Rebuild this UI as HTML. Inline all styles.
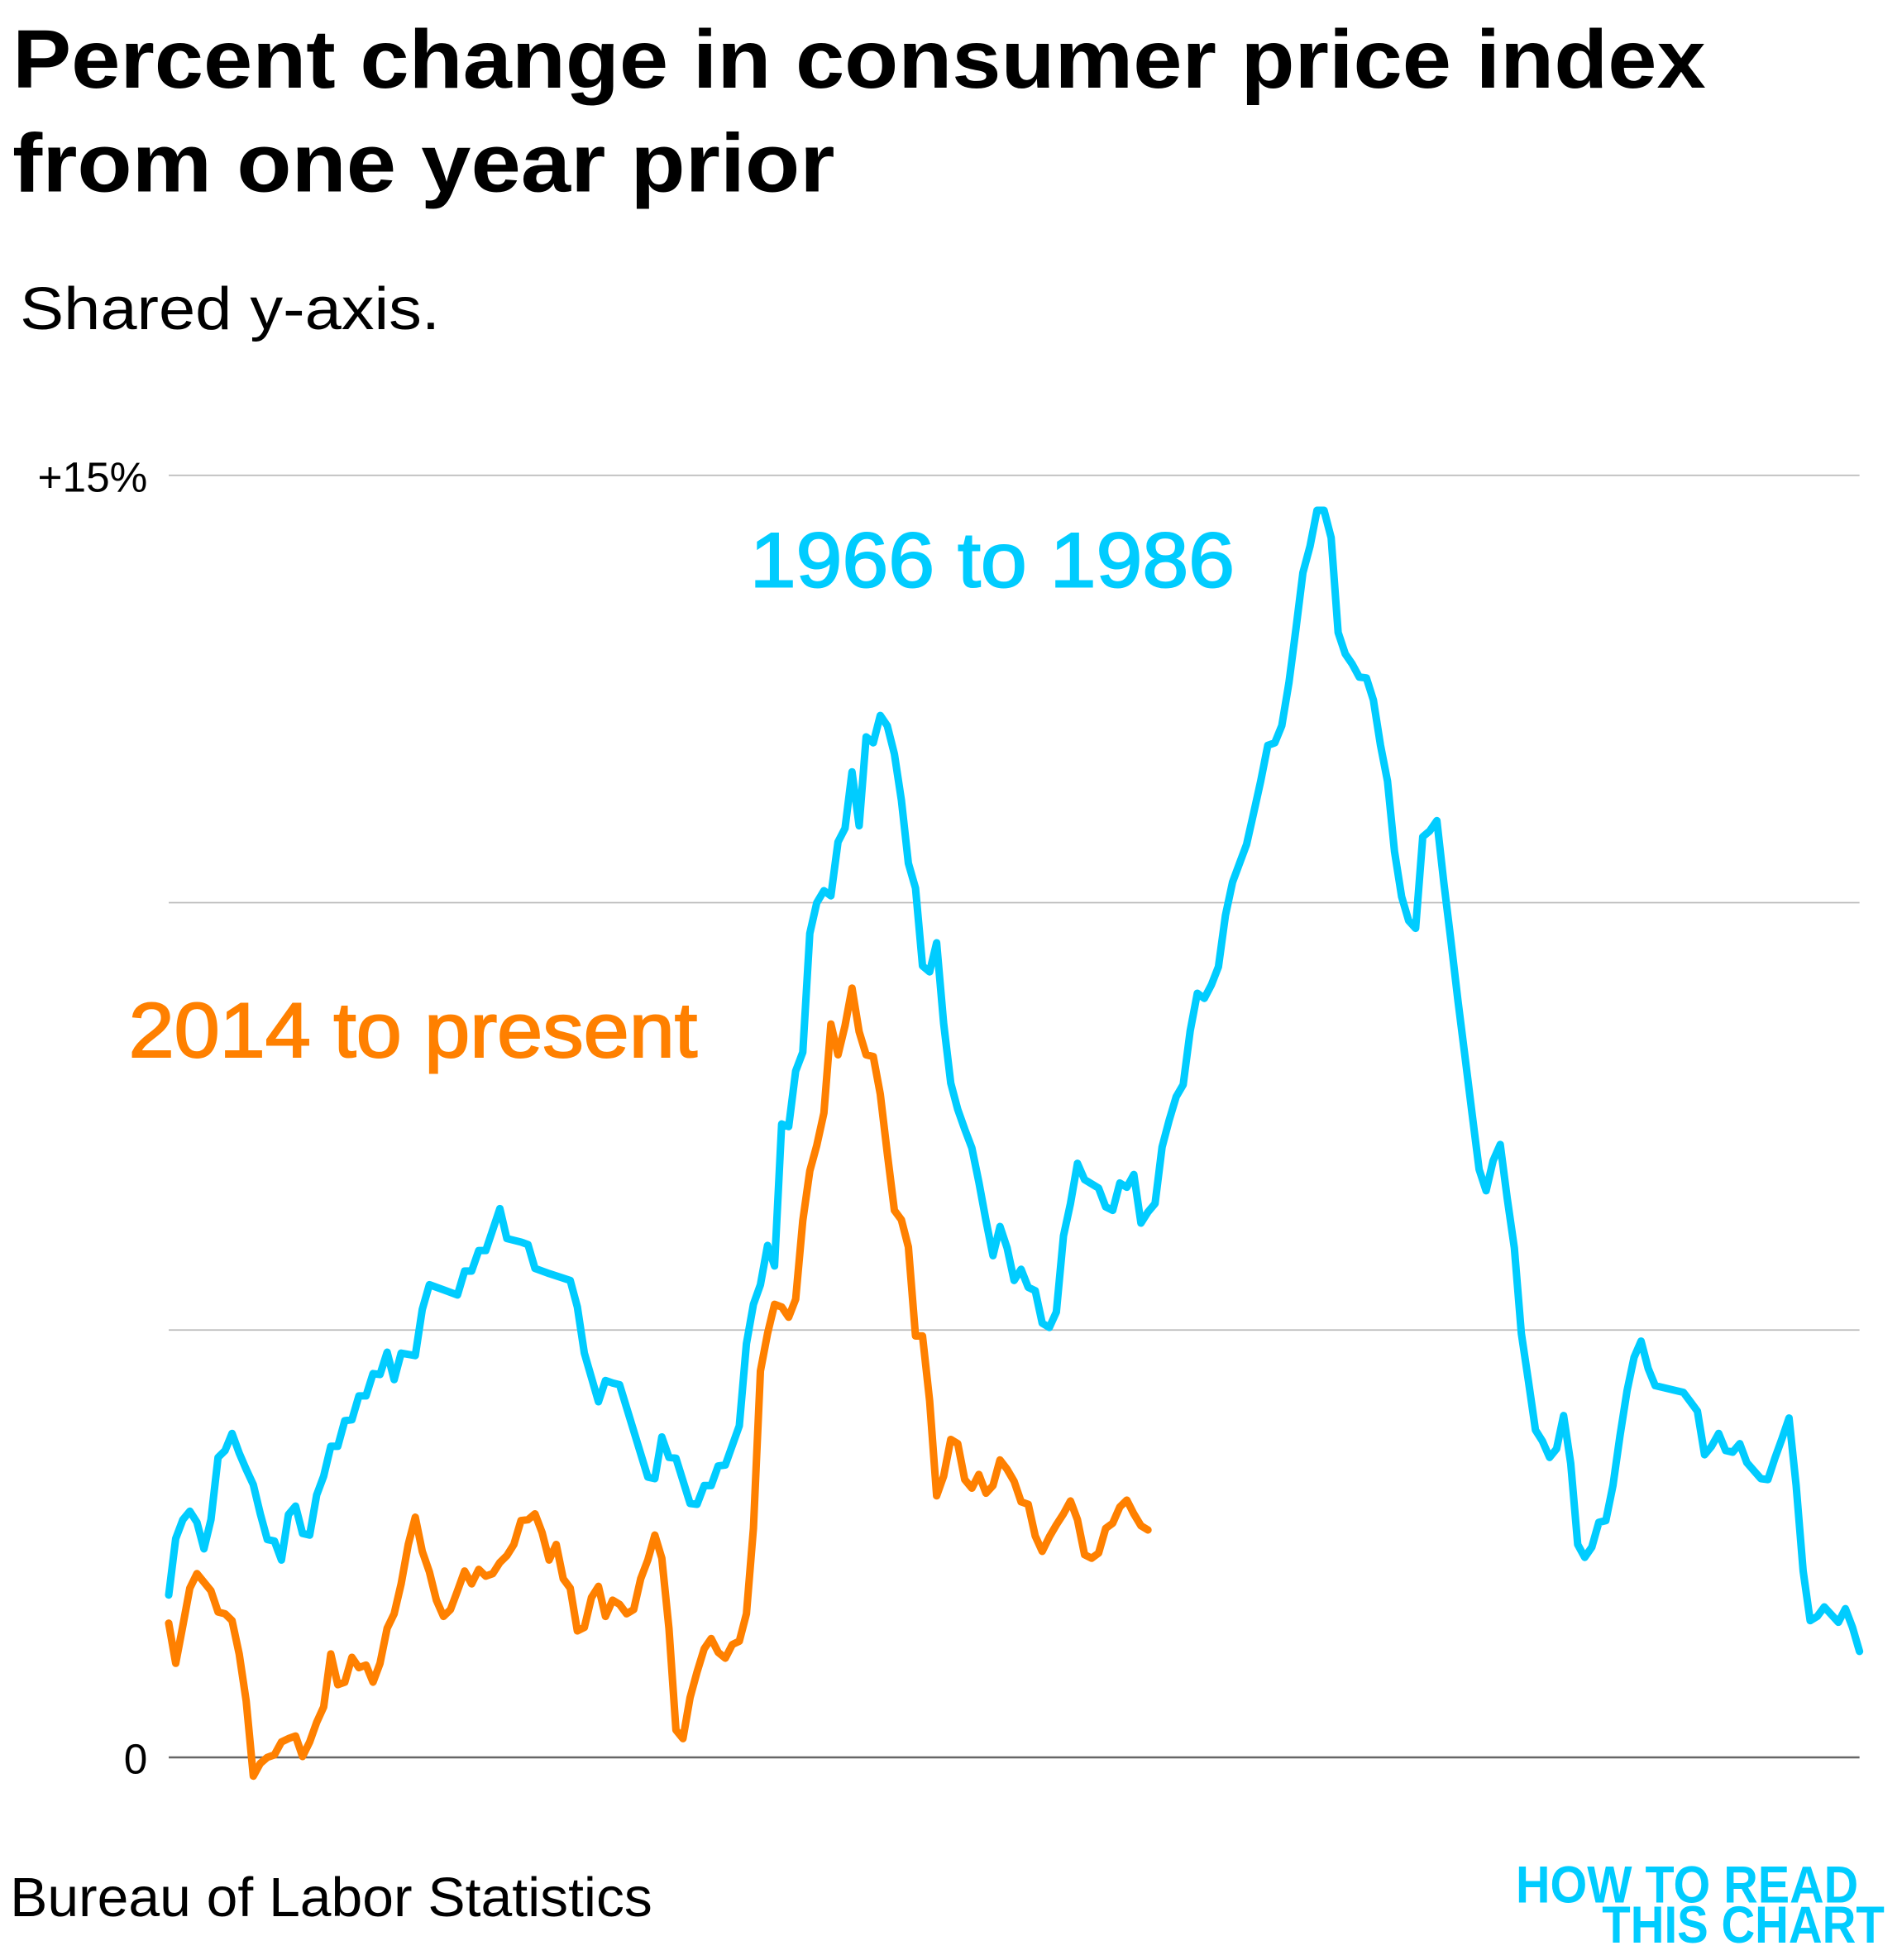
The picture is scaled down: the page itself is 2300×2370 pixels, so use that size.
<!DOCTYPE html>
<html><head><meta charset="utf-8">
<style>
html,body{margin:0;padding:0;background:#fff;}
svg{display:block;}
text{font-family:"Liberation Sans",sans-serif;}
</style></head>
<body>
<svg width="2300" height="2370" viewBox="0 0 1522 1567" preserveAspectRatio="none" xmlns="http://www.w3.org/2000/svg">
<rect width="1522" height="1567" fill="#fff"/>
<text x="10" y="70" font-size="66" font-weight="bold" fill="#000" textLength="1355" lengthAdjust="spacingAndGlyphs">Percent change in consumer price index</text>
<text x="10" y="153" font-size="66" font-weight="bold" fill="#000" textLength="658" lengthAdjust="spacingAndGlyphs">from one year prior</text>
<text x="16" y="263" font-size="48" fill="#000" textLength="336" lengthAdjust="spacingAndGlyphs">Shared y-axis.</text>
<g id="grid"></g>
<g id="series"></g>
<text x="600" y="469" font-size="62" fill="#00ccff" stroke="#00ccff" stroke-width="1.3" textLength="388" lengthAdjust="spacingAndGlyphs">1966 to 1986</text>
<text x="103" y="845" font-size="62" fill="#ff8000" stroke="#ff8000" stroke-width="1.3" textLength="455" lengthAdjust="spacingAndGlyphs">2014 to present</text>
<text x="8" y="1532" font-size="44" fill="#000" textLength="514" lengthAdjust="spacingAndGlyphs">Bureau of Labor Statistics</text>
<text x="1213" y="1521" font-size="42" font-weight="bold" fill="#00ccff" textLength="274" lengthAdjust="spacingAndGlyphs">HOW TO READ</text>
<text x="1282" y="1553" font-size="42" font-weight="bold" fill="#00ccff" textLength="226" lengthAdjust="spacingAndGlyphs">THIS CHART</text>
</svg>
<script>
const yTicks = [0, 5, 10, 15];
const yTickLabels = ["0", "", "", "+15%"];
const blueMonths = [0,1,2,3,4,5,6,7,8,9,10,11,12,13,14,15,16,17,18,19,20,21,22,23,24,25,26,27,28,29,30,31,32,33,35,36,37,39,41,42,43,44,45,47,48,50,51,52,54,57,58,59,61,62,63,64,68,69,70,71,72,74,75,76,77,78,79,81,82,83,84,85,86,87,88,89,90,91,92,93,94,95,96,97,98,99,100,101,102,103,104,105,106,107,108,109,110,111,112,113,114,115,116,117,118,119,120,121,122,123,124,125,126,127,128,129,130,132,133,134,135,136,137,138,139,140,141,142,143,144,145,146,147,148,149,150,151,152,153,154,155,156,157,158,159,160,161,162,163,164,165,166,167,168,169,170,171,172,173,174,175,176,177,178,179,180,181,182,183,184,185,186,187,188,189,190,191,192,193,194,195,196,197,198,199,200,201,202,203,204,205,206,207,208,209,210,211,215,216,217,218,219,220,221,222,223,224,226,227,228,229,230,231,232,233,234,235,236,237,238,239,240];
const blueValues = [1.90,2.56,2.78,2.88,2.75,2.44,2.78,3.51,3.59,3.79,3.56,3.37,3.19,2.85,2.55,2.53,2.31,2.84,2.94,2.62,2.60,3.07,3.29,3.64,3.64,3.94,3.95,4.23,4.23,4.49,4.48,4.74,4.42,4.73,4.70,5.24,5.53,5.47,5.41,5.69,5.69,5.93,5.93,6.42,6.07,6.03,6.00,5.72,5.66,5.58,5.27,4.73,4.16,4.41,4.38,4.36,3.28,3.26,3.75,3.51,3.50,2.97,2.96,3.18,3.18,3.41,3.42,3.88,4.84,5.30,5.53,5.99,5.75,7.41,7.38,8.03,8.25,9.64,10.00,10.14,10.08,10.71,10.87,11.53,10.90,11.94,11.87,12.19,12.07,11.74,11.20,10.46,10.17,9.26,9.19,9.53,8.59,7.89,7.58,7.35,7.13,6.73,6.28,5.87,6.21,5.96,5.58,5.71,5.50,5.46,5.08,5.03,5.21,6.10,6.48,6.95,6.76,6.66,6.44,6.40,6.72,6.67,6.82,6.25,6.38,6.48,7.14,7.45,7.73,7.87,8.50,8.94,8.88,9.04,9.25,9.85,10.24,10.46,10.68,11.05,11.42,11.84,11.87,12.07,12.57,13.20,13.86,14.17,14.59,14.59,14.27,13.16,12.91,12.79,12.64,12.63,12.37,11.84,11.42,10.60,10.07,9.79,9.70,10.77,10.84,10.96,10.23,9.56,8.85,8.20,7.54,6.88,6.63,6.98,7.17,6.54,5.96,4.96,4.41,3.83,3.70,3.51,3.61,4.00,3.44,2.49,2.34,2.46,2.75,2.77,3.18,3.76,4.29,4.68,4.87,4.55,4.35,4.27,4.16,4.05,3.54,3.64,3.79,3.59,3.57,3.67,3.45,3.26,3.25,3.50,3.73,3.97,3.18,2.18,1.60,1.65,1.76,1.67,1.58,1.74,1.52,1.24,1.17];
const orangeMonths = [0,1,2,3,4,5,6,7,8,9,10,11,12,13,14,15,16,17,18,19,20,21,22,23,24,25,26,27,28,29,30,31,32,33,34,35,36,37,38,39,40,41,42,43,44,45,46,47,48,49,50,51,52,53,54,55,56,57,58,59,60,61,62,63,64,65,66,67,68,69,70,71,72,73,74,75,76,77,78,79,80,81,82,83,84,85,86,87,88,89,90,91,92,93,94,95,96,97,98,99,100,101,102,103,104,105,106,107,108,109,110,111,112,113,114,115,116,117,118,119,120,121,122,123,124,125,126,127,128,129,130,131,132,133,134,135,136,137,138,139];
const orangeValues = [1.57,1.10,1.54,1.98,2.15,2.05,1.95,1.70,1.68,1.60,1.21,0.66,-0.22,-0.07,0.00,0.03,0.18,0.22,0.25,0.01,0.18,0.41,0.59,1.21,0.85,0.88,1.17,1.05,1.08,0.88,1.10,1.51,1.68,2.03,2.49,2.81,2.41,2.17,1.84,1.65,1.73,1.95,2.18,2.03,2.20,2.12,2.15,2.28,2.36,2.49,2.77,2.78,2.85,2.63,2.31,2.49,2.09,1.98,1.48,1.52,1.87,2.00,1.65,1.84,1.79,1.68,1.73,2.09,2.31,2.60,2.33,1.51,0.32,0.22,0.70,1.00,1.27,1.39,1.23,1.16,1.32,1.36,1.68,2.68,4.52,4.96,5.30,5.27,5.15,5.36,6.28,6.86,7.16,7.54,8.58,8.22,8.56,9.00,8.49,8.22,8.20,7.76,7.07,6.40,6.29,5.97,4.93,4.93,4.17,3.06,3.29,3.72,3.67,3.25,3.15,3.31,3.09,3.18,3.48,3.37,3.23,2.99,2.96,2.59,2.41,2.58,2.72,2.85,3.00,2.78,2.37,2.33,2.39,2.68,2.74,2.93,3.01,2.85,2.71,2.66,2.41,2.46];

const NS = "http://www.w3.org/2000/svg";
const X0 = 135, X1 = 1488, Y0 = 1405, Y15 = 380;
const maxMonth = 240;
function xScale(m){ return X0 + (X1 - X0) * m / maxMonth; }
function yScale(v){ return Y0 - (Y0 - Y15) * v / 15; }

const grid = document.getElementById('grid');
yTicks.forEach((t, i) => {
  const ln = document.createElementNS(NS, 'line');
  
  
  ln.setAttribute('x1', X0); ln.setAttribute('x2', X1);
  ln.setAttribute('y1', yScale(t)); ln.setAttribute('y2', yScale(t));
  ln.setAttribute('stroke', t === 0 ? '#666' : '#bbb');
  ln.setAttribute('stroke-width', t === 0 ? 1.6 : 1.2);
  grid.appendChild(ln);
  if (yTickLabels[i]) {
    const tx = document.createElementNS(NS, 'text');
    
    
    tx.setAttribute('x', 118);
    tx.setAttribute('y', yScale(t) + 13);
    tx.setAttribute('text-anchor', 'end');
    tx.setAttribute('font-size', '34');
    tx.setAttribute('fill', '#000');
    tx.textContent = yTickLabels[i];
    grid.appendChild(tx);
  }
});

const series = document.getElementById('series');
function drawLine(months, values, color, name){
  const p = document.createElementNS(NS, 'polyline');
  
  
  p.setAttribute('points', months.map((m, i) => xScale(m).toFixed(1) + ',' + yScale(values[i]).toFixed(1)).join(' '));
  p.setAttribute('fill', 'none');
  p.setAttribute('stroke', color);
  p.setAttribute('stroke-width', '6');
  p.setAttribute('stroke-linejoin', 'round');
  p.setAttribute('stroke-linecap', 'round');
  series.appendChild(p);
}
drawLine(blueMonths, blueValues, '#00ccff', 'line-1966-to-1986');
drawLine(orangeMonths, orangeValues, '#ff8000', 'line-2014-to-present');
</script>
</body></html>
